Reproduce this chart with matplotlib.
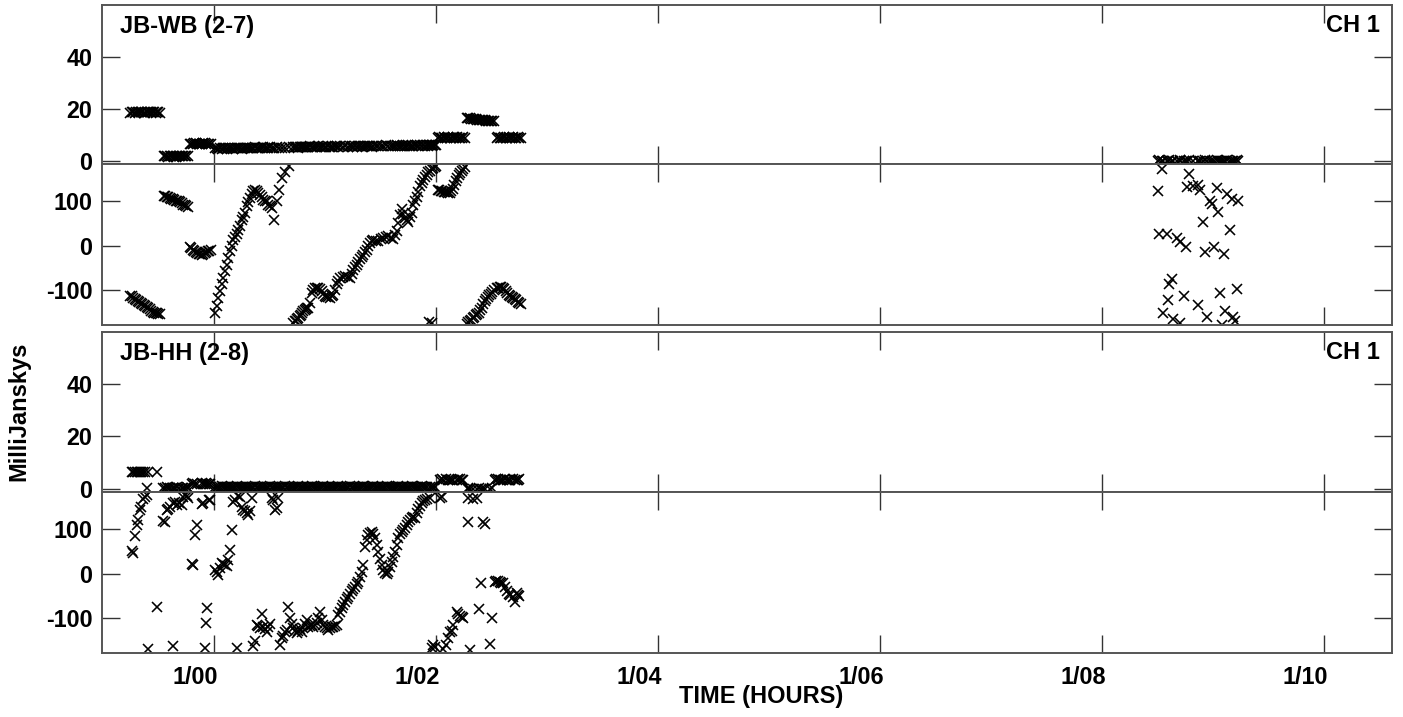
import matplotlib
matplotlib.use('Agg')
import matplotlib.pyplot as plt

plt.rcParams['font.family'] = ['Liberation Sans', 'DejaVu Sans']
plt.rcParams['font.weight'] = 'bold'

# time in hours from day 1 00h
hour_ticks = [0, 2, 4, 6, 8, 10]
hour_labels = ['1/00', '1/02', '1/04', '1/06', '1/08', '1/10']
amp_ticks = [0, 20, 40]
phase_ticks = [-100, 0, 100]

# ---- JB-WB (2-7) ----
wb_time = [
    # scan 1
    -0.757, -0.743, -0.730, -0.716, -0.703, -0.689, -0.676, -0.662, -0.649, -0.635,
    -0.622, -0.608, -0.595, -0.581, -0.568, -0.554, -0.541, -0.527, -0.514, -0.500, -0.486,
    # scan 2
    -0.450, -0.437, -0.423, -0.410, -0.396, -0.383, -0.369, -0.356, -0.342, -0.329,
    -0.315, -0.302, -0.288, -0.275, -0.261, -0.248, -0.234,
    # scan 3
    -0.216, -0.203, -0.189, -0.176, -0.162, -0.149, -0.135, -0.122, -0.108, -0.095,
    -0.081, -0.068, -0.054, -0.041, -0.027,
    # scan 4
    0.009, 0.024, 0.039, 0.054, 0.069, 0.084, 0.099, 0.114, 0.129, 0.144,
    0.159, 0.174, 0.189, 0.205, 0.219, 0.234, 0.250, 0.264, 0.279, 0.295,
    0.309, 0.324, 0.340, 0.354, 0.369, 0.385, 0.399, 0.414, 0.430, 0.444,
    0.459, 0.475, 0.489, 0.505, 0.520, 0.543, 0.565, 0.586, 0.610, 0.640, 0.676,
    0.714, 0.727, 0.739, 0.749, 0.759, 0.772, 0.784, 0.795, 0.805, 0.817,
    0.829, 0.840, 0.850, 0.865, 0.880, 0.895, 0.910, 0.925, 0.940, 0.955,
    0.970, 0.985, 1.000, 1.013, 1.027, 1.045, 1.060, 1.075, 1.090, 1.105,
    1.120, 1.135, 1.158, 1.180, 1.203, 1.225, 1.240, 1.255, 1.270, 1.286,
    1.300, 1.315, 1.330, 1.345, 1.360, 1.376, 1.390, 1.405, 1.420, 1.435,
    1.459, 1.480, 1.505, 1.525, 1.550, 1.570, 1.595, 1.615, 1.630, 1.646,
    1.660, 1.675, 1.691, 1.705, 1.721, 1.735, 1.750, 1.765, 1.781, 1.796,
    1.811, 1.826, 1.841, 1.856, 1.871, 1.886, 1.901, 1.916, 1.930, 1.937,
    1.946, 1.961, 1.968, 1.976, 1.988, 2.000,
    # scan 5
    2.018, 2.031, 2.045, 2.058, 2.072, 2.085, 2.099, 2.112, 2.126, 2.139,
    2.153, 2.166, 2.180, 2.193, 2.207, 2.220, 2.234, 2.247, 2.261,
    # scan 6
    2.279, 2.292, 2.306, 2.319, 2.333, 2.346, 2.360, 2.373, 2.387, 2.400,
    2.414, 2.427, 2.441, 2.454, 2.468, 2.481, 2.495, 2.509, 2.523,
    # scan 7
    2.550, 2.563, 2.577, 2.590, 2.604, 2.617, 2.631, 2.644, 2.658, 2.671,
    2.685, 2.698, 2.712, 2.725, 2.739, 2.752, 2.766,
    # scan 8
    8.507, 8.516, 8.538, 8.552, 8.583, 8.597, 8.606, 8.628, 8.642, 8.673,
    8.703, 8.706, 8.739, 8.757, 8.768, 8.786, 8.820, 8.865, 8.868, 8.883,
    8.913, 8.928, 8.943, 8.973, 8.988, 9.012, 9.033, 9.048, 9.063, 9.078,
    9.099, 9.108, 9.123, 9.153, 9.168, 9.183, 9.198, 9.214, 9.228,
]
wb_amp = [
    18.5, 18.7, 18.6, 18.5, 18.6, 18.7, 18.7, 18.6, 18.6, 18.5,
    18.5, 18.6, 18.6, 18.7, 18.7, 18.6, 18.6, 18.5, 18.6, 18.7, 18.5,
    1.8, 1.9, 1.8, 1.7, 1.9, 1.8, 1.8, 1.7, 1.7, 1.8,
    1.8, 1.9, 1.8, 1.8, 1.9, 1.8, 1.8,
    6.6, 6.7, 6.7, 6.8, 6.8, 6.7, 6.7, 6.6, 6.7, 6.8,
    6.8, 6.7, 6.7, 6.6, 6.6,
    4.8, 5.0, 4.7, 4.9, 4.6, 4.8, 5.0, 4.7, 4.9, 4.8,
    5.0, 4.7, 4.9, 5.1, 4.8, 4.9, 4.7, 5.0, 5.1, 4.8,
    4.9, 5.1, 4.8, 5.0, 5.2, 4.9, 5.0, 4.8, 5.1, 5.2,
    4.9, 5.1, 5.0, 5.2, 4.9, 5.1, 5.3, 5.0, 5.1, 4.9, 5.2,
    5.3, 5.5, 5.2, 5.4, 5.1, 5.3, 5.5, 5.2, 5.4, 5.3,
    5.5, 5.2, 5.4, 5.6, 5.3, 5.4, 5.2, 5.5, 5.6, 5.3,
    5.4, 5.6, 5.3, 5.5, 5.7, 5.4, 5.5, 5.3, 5.6, 5.7,
    5.4, 5.6, 5.5, 5.7, 5.4, 5.6, 5.8, 5.5, 5.6, 5.4,
    5.7, 5.8, 5.5, 5.7, 5.6, 5.9, 5.6, 5.7, 5.5, 5.8,
    5.9, 5.6, 5.8, 5.7, 6.0, 5.7, 5.8, 5.6, 5.9, 6.0,
    5.7, 5.9, 5.8, 6.0, 5.7, 5.9, 6.1, 5.8, 5.9, 5.7,
    6.0, 6.1, 5.8, 6.0, 5.9, 6.2, 5.9, 6.0, 5.8, 6.1,
    6.2, 5.9, 6.1, 6.0, 6.2, 6.0,
    9.0, 9.1, 8.9, 9.0, 9.1, 9.0, 8.9, 9.1, 9.0, 9.0,
    9.1, 8.9, 9.0, 9.1, 9.0, 8.9, 9.0, 9.1, 9.0,
    16.4, 16.4, 16.3, 16.2, 16.1, 16.1, 16.0, 15.9, 15.9, 15.8,
    15.7, 15.7, 15.6, 15.5, 15.4, 15.4, 15.3, 15.3, 15.2,
    9.0, 9.1, 9.0, 8.9, 9.0, 9.1, 9.0, 9.0, 9.1, 8.9,
    9.0, 9.1, 9.0, 8.9, 9.1, 9.0, 9.0,
    0.1, 0.2, 0.1, 0.0, 0.1, 0.1, 0.2, 0.1, 0.0, 0.1,
    0.2, 0.1, 0.1, 0.0, 0.1, 0.2, 0.1, 0.1, 0.0, 0.1,
    0.1, 0.2, 0.1, 0.1, 0.0, 0.1, 0.2, 0.1, 0.1, 0.0,
    0.1, 0.1, 0.2, 0.1, 0.0, 0.1, 0.1, 0.2, 0.1,
]
wb_phase = [
    -112, -114, -117, -119, -121, -124, -126, -129, -131, -133,
    -136, -138, -141, -143, -146, -148, -150, -151, -152, -153, -154,
    112, 111, 110, 108, 107, 105, 104, 102, 101, 100,
    99, 97, 95, 92, 90, 88, 86,
    -2, -6, -9, -12, -14, -16, -18, -19, -20, -19,
    -17, -15, -13, -11, -10,
    -151, -136, -117, -102, -87, -72, -58, -43, -28, -13,
    0, 13, 20, 25, 35, 45, 58, 65, 73, 88,
    98, 107, 115, 122, 124, 122, 118, 114, 108, 103,
    101, 99, 92, 88, 84, 58, 99, 124, 152, 166, 178,
    -173, -170, -168, -165, -162, -158, -155, -151, -147, -145,
    -143, -141, -140, -128, -106, -100, -95, -94, -95, -98,
    -102, -108, -114, -115, -116, -117, -114, -110, -99, -87,
    -79, -72, -70, -69, -70, -72, -63, -54, -48, -43,
    -37, -31, -25, -20, -14, -9, -1, 6, 10, 13,
    11, 10, 14, 17, 19, 21, 18, 15, 24, 32,
    51, 68, 81, 70, 62, 58, 54, 64, 73, 92,
    101, 110, 121, 133, 141, 148, 154, 159, 164, -171,
    167, -173, 171, 174, 176, 178,
    125, 124, 123, 122, 121, 120, 120, 119, 119, 122,
    128, 136, 145, 152, 158, 163, 168, 172, 176,
    -175, -172, -170, -166, -163, -159, -156, -153, -150, -145,
    -140, -132, -125, -120, -115, -111, -108, -104, -100,
    -96, -94, -92, -93, -95, -98, -102, -106, -110, -113,
    -115, -117, -120, -123, -126, -129, -132,
    123, 27, 172, -152, 27, -121, -87, -74, -164, 17,
    7, -174, -112, -3, 131, 161, 133, 136, -133, 125,
    54, -15, -160, 99, 94, -3, 129, 75, -107, -177,
    -18, -147, 116, 34, 104, -160, -169, -97, 99,
]

# ---- JB-HH (2-8) ----
hh_time = [
    # scan 1
    -0.740, -0.727, -0.712, -0.696, -0.682, -0.667, -0.655, -0.642, -0.620, -0.606,
    -0.592, -0.516,
    # scan 2
    -0.455, -0.441, -0.426, -0.412, -0.396, -0.372, -0.367, -0.351, -0.330, -0.311,
    -0.291, -0.277, -0.261, -0.245, -0.230,
    # scan 3
    -0.201, -0.185, -0.171, -0.153, -0.110, -0.096, -0.081, -0.072, -0.060, -0.045, -0.036,
    # scan 4
    0.010, 0.024, 0.039, 0.054, 0.069, 0.084, 0.099, 0.114, 0.129, 0.144,
    0.159, 0.174, 0.190, 0.205, 0.220, 0.234, 0.250, 0.265, 0.279, 0.294,
    0.309, 0.325, 0.340, 0.354, 0.369, 0.385, 0.400, 0.414, 0.430, 0.444,
    0.460, 0.475, 0.490, 0.505, 0.520, 0.535, 0.550, 0.565, 0.579, 0.595,
    0.610, 0.625, 0.640, 0.655, 0.669, 0.685, 0.700, 0.714, 0.730, 0.745,
    0.760, 0.775, 0.790, 0.805, 0.820, 0.835, 0.850, 0.865, 0.880, 0.895,
    0.910, 0.925, 0.940, 0.955, 0.970, 0.985, 1.000, 1.015, 1.030, 1.045,
    1.060, 1.075, 1.090, 1.105, 1.120, 1.135, 1.150, 1.165, 1.180, 1.195,
    1.210, 1.225, 1.241, 1.255, 1.270, 1.285, 1.300, 1.315, 1.331, 1.345,
    1.360, 1.375, 1.390, 1.405, 1.421, 1.435, 1.450, 1.465, 1.480, 1.495,
    1.511, 1.525, 1.541, 1.555, 1.570, 1.585, 1.601, 1.615, 1.631, 1.645,
    1.660, 1.675, 1.691, 1.705, 1.721, 1.735, 1.750, 1.765, 1.781, 1.796,
    1.811, 1.826, 1.841, 1.856, 1.871, 1.886, 1.901, 1.920, 1.946, 1.961,
    1.976, 1.990,
    # scan 5
    2.036, 2.050, 2.063, 2.090, 2.111, 2.125, 2.141, 2.155, 2.186, 2.200,
    2.216, 2.230, 2.246,
    # scan 6
    2.284, 2.291, 2.306, 2.336, 2.366, 2.390, 2.410, 2.426, 2.441, 2.486, 2.502,
    # scan 7
    2.532, 2.545, 2.559, 2.577, 2.590, 2.606, 2.620, 2.637, 2.655, 2.667,
    2.697, 2.712, 2.727, 2.738, 2.748,
]
hh_amp = [
    6.4, 6.3, 6.4, 6.3, 6.4, 6.3, 6.4, 6.4, 6.3, 0.3,
    6.3, 6.4,
    0.5, 0.5, 0.6, 0.5, 0.5, 0.4, 0.5, 0.5, 0.6, 0.5,
    0.5, 0.4, 0.5, 0.6, 0.5,
    2.0, 2.1, 2.0, 2.0, 2.1, 1.9, 2.0, 2.1, 2.0, 1.9, 2.0,
    0.8, 0.9, 0.7, 0.8, 1.0, 0.8, 0.7, 0.9, 0.8, 0.8,
    0.9, 0.7, 0.8, 1.0, 0.8, 0.9, 0.7, 0.8, 0.9, 0.8,
    0.7, 0.9, 0.8, 0.8, 1.0, 0.7, 0.8, 0.9, 0.8, 0.7,
    0.9, 0.8, 0.8, 1.0, 0.7, 0.8, 0.9, 0.8, 0.8, 0.9,
    0.7, 0.8, 1.0, 0.8, 0.9, 0.7, 0.8, 0.8, 0.9, 0.8,
    1.0, 0.7, 0.8, 0.9, 0.8, 0.8, 0.7, 0.9, 1.0, 0.8,
    0.8, 0.9, 0.7, 0.8, 0.8, 1.0, 0.8, 0.7, 0.9, 0.8,
    0.9, 0.8, 0.7, 0.8, 1.0, 0.8, 0.9, 0.7, 0.8, 0.8,
    0.8, 1.0, 0.7, 0.9, 0.8, 0.8, 0.7, 0.9, 0.8, 1.0,
    0.8, 0.7, 0.9, 0.8, 0.8, 1.0, 0.7, 0.8, 0.9, 0.8,
    0.7, 0.9, 0.8, 1.0, 0.8, 0.8, 0.7, 0.9, 0.8, 0.8,
    1.0, 0.8, 0.7, 0.9, 0.8, 0.8, 0.9, 0.7, 1.0, 0.8,
    0.8, 0.9, 0.7, 0.8, 1.0, 0.8, 0.8, 0.9, 0.7, 0.8,
    0.9, 0.8,
    3.6, 3.7, 3.5, 3.7, 3.6, 3.6, 3.6, 3.5, 3.6, 3.7,
    3.7, 3.6, 3.6,
    0.1, 0.2, 0.1, 0.0, 0.1, 0.2, 0.1, 0.1, 0.0, 0.1, 0.2,
    3.6, 3.7, 3.7, 3.6, 3.5, 3.6, 3.7, 3.5, 3.6, 3.6,
    3.7, 3.6, 3.6, 3.5, 3.7,
]
hh_phase = [
    50, 47, 84, 109, 120, 143, 150, 167, 172, 176,
    -169, -74,
    118, 116, 143, 146, 150, 159, -163, 161, 154, 158,
    154, 172, 176, 173, 170,
    21, 20, 87, 109, 155, 158, -167, -110, -76, 166, 165,
    8, 4, -4, 12, 23, 21, 19, 16, 30, 53,
    98, 161, 166, -167, 175, 172, 150, 143, 140, 135,
    131, 140, 170, -163, -151, -115, -118, -122, -91, -119,
    -125, -130, -120, -113, 169, 166, 143, 147, 169, -160,
    -145, -140, -132, -126, -74, -100, -112, -122, -128, -133,
    -128, -125, -130, -122, -112, -104, -119, -117, -115, -120,
    -116, -111, -100, -85, -104, -115, -120, -123, -126, -123,
    -120, -119, -117, -115, -92, -85, -78, -70, -63, -57,
    -52, -46, -40, -35, -29, -24, -18, -8, 4, 19,
    60, 75, 87, 92, 94, 88, 79, 64, 49, 32,
    19, 8, 1, 0, 4, 14, 27, 38, 49, 64,
    79, 88, 94, 98, 102, 109, 116, 120, 124, 126,
    124, 136, 146, 152, 158, 162, 165, 167, 169, -167,
    -160, -165,
    169, 172, -168, -160, -145, -130, -128, -115, -85, -90,
    -96, -98, -100,
    115, 169, -171, 167, 170, -80, -21, 116, 111, -158, -100,
    -18, -17, -16, -19, -20, -21, -30, -40, -46, -48,
    -52, -63, -44, -47, -50,
]

W, H = 1403, 717
fig = plt.figure(figsize=(W / 100, H / 100), dpi=100)


def box(top, bottom):
    return [102 / W, 1 - bottom / H, 1290 / W, (bottom - top) / H]


frame_col = '#555555'


def style(ax, yticks, ylims):
    ax.set_xlim(-1.009, 10.613)
    ax.set_ylim(*ylims)
    ax.set_xticks(hour_ticks)
    ax.set_xticklabels([])
    ax.set_yticks(yticks)
    ax.set_yticklabels([str(v) for v in yticks])
    ax.tick_params(direction='in', length=13, width=1.0, color='#333333',
                   top=True, right=True, labelsize=16.8, pad=7)
    for s in ax.spines.values():
        s.set_color(frame_col)
        s.set_linewidth(1.4)


panels = [
    (wb_time, wb_amp, wb_phase, 'JB-WB (2-7)', 5, 164, 325),
    (hh_time, hh_amp, hh_phase, 'JB-HH (2-8)', 332, 492, 653),
]

for t, amp, ph, name, top, mid, bot in panels:
    ax_a = fig.add_axes(box(top, mid))
    ax_p = fig.add_axes(box(mid, bot))
    ax_a.plot(t, amp, linestyle='none', marker='x', ms=6.5, mew=1.15, color='black')
    ax_p.plot(t, ph, linestyle='none', marker='x', ms=6.5, mew=1.15, color='black')
    style(ax_a, amp_ticks, (-1.15, 59.8))
    style(ax_p, phase_ticks, (-178, 183))
    fig.text(120 / W, 1 - (top + 28) / H, name, fontsize=17, ha='left', va='baseline')
    fig.text(1380 / W, 1 - (top + 27.5) / H, 'CH 1', fontsize=17, ha='right', va='baseline')
    last = ax_p

for h, lab in zip(hour_ticks, hour_labels):
    last.annotate(lab, xy=(h, 0), xycoords=('data', 'axes fraction'),
                  xytext=(3, -9), textcoords='offset points',
                  ha='right', va='top', fontsize=16.8)

fig.text(761 / W, 1 - 703 / H, 'TIME (HOURS)', fontsize=17, ha='center', va='baseline')
fig.text(19 / W, 1 - 411 / H, 'MilliJanskys', fontsize=17, rotation=90,
         ha='center', va='center')

fig.savefig('out.png', dpi=100)
